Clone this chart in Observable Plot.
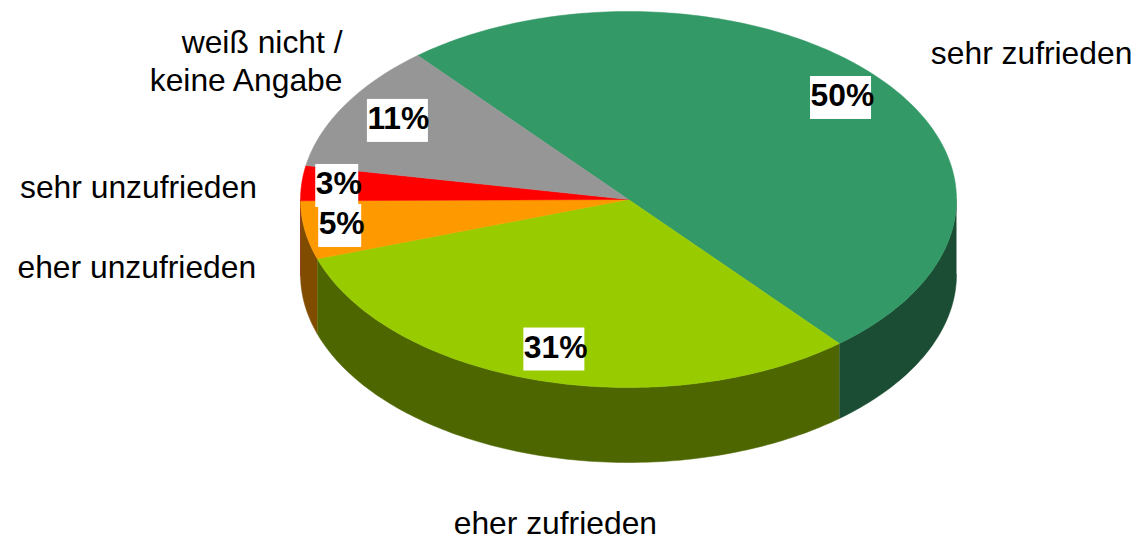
<!DOCTYPE html>
<html>
<head>
<meta charset="utf-8">
<script src="https://cdn.jsdelivr.net/npm/d3@7"></script>
<script src="https://cdn.jsdelivr.net/npm/@observablehq/plot@0.6"></script>
<style>html,body{margin:0;padding:0;background:#fff}svg{display:block}</style>
</head>
<body>
<div id="chart"></div>
<script>
// Data, in drawing order (clockwise)
const categories = ["sehr zufrieden", "eher zufrieden", "eher unzufrieden", "sehr unzufrieden", "weiß nicht /\nkeine Angabe"];
const shares = [50, 31, 5, 3, 11];
const topColors = ["#339966", "#99cc00", "#ff9900", "#ff0000", "#969696"];
const wallColors = ["#1a4d33", "#4d6600", "#804d00", "#800000", "#4b4b4b"];

// Label placement, in pie units (1 = ellipse radius)
const valueX = [0.648, -0.226, -0.879, -0.888, -0.703];
const valueY = [-0.540, 0.798, 0.141, -0.072, -0.418];
const nameX = [1.229, -0.223, -1.499, -1.494, -0.872];
const nameY = [-0.787, 1.715, 0.351, -0.075, -0.744];
const nameAnchor = ["middle", "middle", "middle", "middle", "end"];

// Geometry of the tilted disc
const W = 1136, H = 538, CX = 628, CY = 199, RX = 328, RY = 188;
const DEPTH = 75 / RY, START = -40, FONT = 31.8;
const rad = d => d * Math.PI / 180;

let running = START;
const slices = shares.map((s, i) => {
  const a0 = running; running += s * 3.6;
  return {i, a0, a1: running};
});
const ux = a => Math.sin(rad(a));
const uy = a => -Math.cos(rad(a));
const arc = (a0, a1) => {
  const n = Math.max(1, Math.ceil(Math.abs(a1 - a0)));
  return d3.range(n + 1).map(k => a0 + (a1 - a0) * k / n);
};

const topPts = slices.flatMap(s => {
  const p = t => ({key: s.i, color: topColors[s.i], x: t[0], y: t[1]});
  return [p([0, 0]), ...arc(s.a0, s.a1).map(a => p([ux(a), uy(a)])), p([0, 0])];
});
const wallPts = slices.flatMap(s => {
  const a0 = Math.max(s.a0, 90), a1 = Math.min(s.a1, 270);
  if (a1 <= a0) return [];
  const p = (a, dz) => ({key: s.i, color: wallColors[s.i], x: ux(a), y: uy(a) + dz});
  return [...arc(a0, a1).map(a => p(a, 0)), ...arc(a1, a0).map(a => p(a, DEPTH))];
});

// Order the value labels so the 5% box sits over the 3% box
const valueLabels = slices.map(s => {
  const text = shares[s.i] + "%";
  const x = valueX[s.i], y = valueY[s.i];
  const hw = (text.length === 3 ? 30.5 : 21.5) / RX, hh = 21.5 / RY;
  return {text, x, y, x1: x - hw, x2: x + hw, y1: y - hh, y2: y + hh};
});
const nameLabels = categories.map((c, i) => ({text: c, x: nameX[i], y: nameY[i], anchor: nameAnchor[i]}));

const plot = Plot.plot({
  width: W, height: H, margin: 0,
  x: {domain: [-CX / RX, (W - CX) / RX], range: [0, W], axis: null},
  y: {domain: [-CY / RY, (H - CY) / RY], range: [0, H], axis: null},
  color: {type: "identity"},
  style: {fontFamily: "'Liberation Sans', Arial, sans-serif", background: "#fff"},
  marks: [
    Plot.line(wallPts, {x: "x", y: "y", z: "key", fill: "color", stroke: "color", strokeWidth: 0.5}),
    Plot.line(topPts, {x: "x", y: "y", z: "key", fill: "color", stroke: "color", strokeWidth: 0.5}),
    Plot.rect(valueLabels, {x1: "x1", x2: "x2", y1: "y1", y2: "y2", fill: "#fff"}),
    Plot.text(valueLabels, {x: "x1", y: "y", text: "text", dy: -2, fontSize: FONT, fontWeight: "bold", fill: "#000", textAnchor: "start", lineAnchor: "middle"}),
    ...["middle", "end"].map(anchor => Plot.text(nameLabels.filter(d => d.anchor === anchor), {
      x: "x", y: "y", text: "text", fontSize: FONT, fill: "#000", textAnchor: anchor, lineAnchor: "middle", lineHeight: 1.22
    }))
  ]
});
document.getElementById("chart").append(plot);
</script>
</body>
</html>
